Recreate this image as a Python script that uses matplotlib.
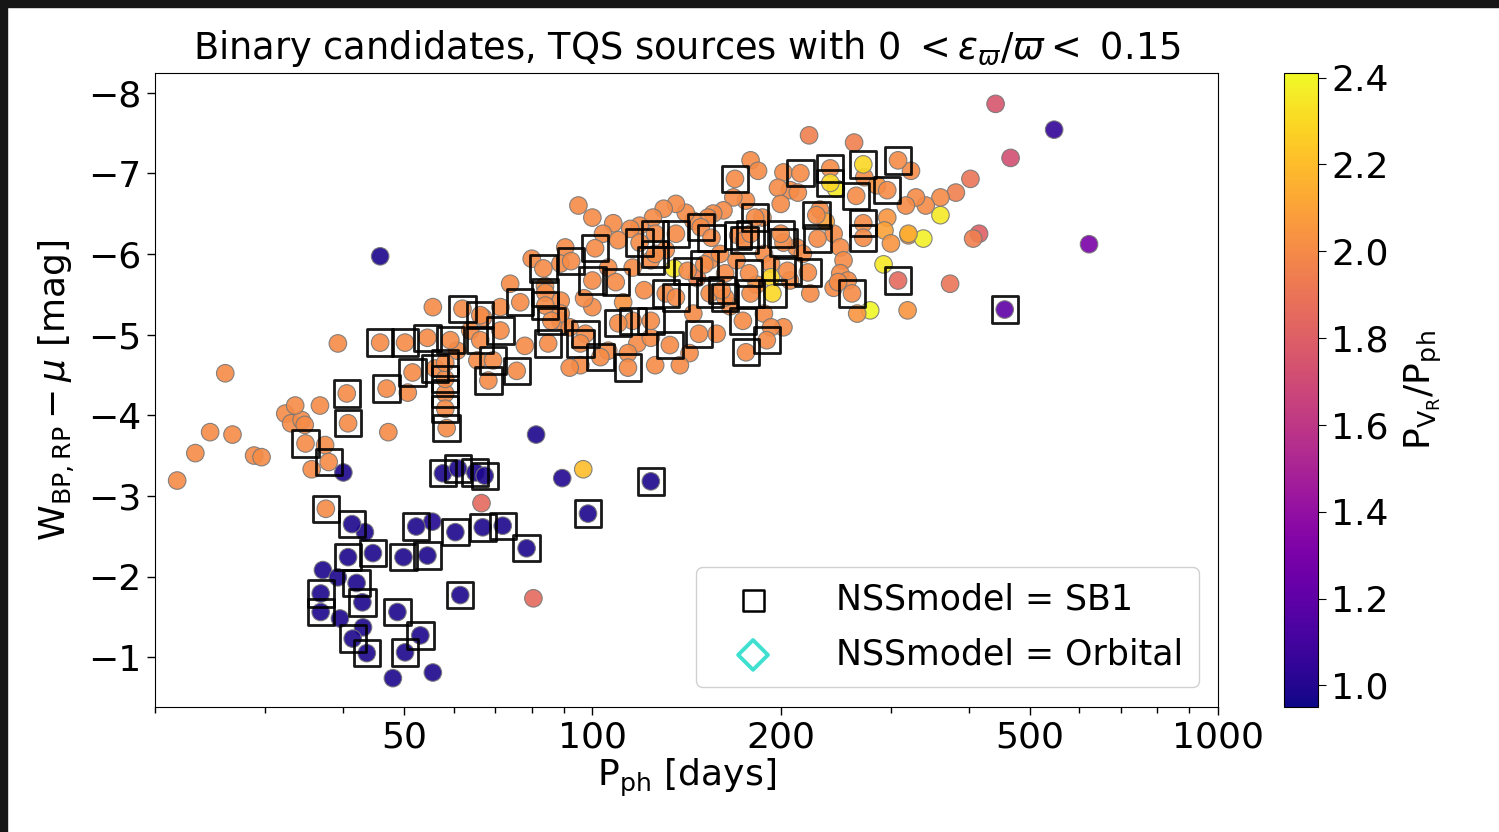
import numpy as np
import matplotlib
matplotlib.use("Agg")
import matplotlib.pyplot as plt
from matplotlib.ticker import FixedLocator, NullFormatter, FuncFormatter
from matplotlib.patches import Rectangle

# ---- data ----
# sources without NSS model: period [days], W-mu [mag], P_VR/P_ph
plainP = [21.7, 23.2, 24.5, 25.9, 26.6, 28.8, 29.6, 32.3, 33.0, 34.3, 34.7, 33.5,
          36.7, 37.4, 35.6, 39.2, 50.7, 47.2, 55.6, 71.3, 73.9, 95.0, 100, 95.7,
          89.0, 89.0, 80.0, 78.0, 60.8, 65.5, 66.9, 63.8, 92.0, 126,
          179, 184, 202, 207, 213, 198, 200, 187, 176, 168, 162, 156, 153, 145, 141,
          136, 130, 125, 119, 115, 108, 104, 110, 90.5, 88.9, 106, 116, 154, 160,
          163, 170, 188, 193, 212, 217, 243, 249, 252, 243, 249, 256, 207, 188,
          202, 193, 145, 158, 143, 138, 118, 124, 100, 92, 89, 106, 114, 223,
          135, 193, 222, 262,
          323, 381, 402, 360, 341, 329, 317, 360, 320, 338, 415, 406, 373, 319,
          441, 547, 466, 622, 292, 278, 265, 247, 296, 293, 320, 300, 245,
          45.8, 81.3, 89.5, 96.7, 66.5, 80.5, 40.0, 43.3, 55.5, 37.1, 39.2, 39.5,
          43.0, 48.0, 55.6,
          84.0, 97.0, 112, 121, 131, 147, 166, 183, 231, 236, 272, 285]
plainW = [-3.19, -3.53, -3.79, -4.52, -3.76, -3.50, -3.48, -4.02, -3.90, -3.94, -3.88, -4.12,
          -4.12, -3.63, -3.33, -4.89, -4.28, -3.79, -5.34, -5.34, -5.63, -6.60, -6.45, -4.62,
          -5.42, -5.17, -5.94, -4.86, -4.80, -4.68, -5.21, -5.05, -4.59, -4.62,
          -7.16, -7.03, -7.01, -6.79, -6.76, -6.82, -6.62, -6.45, -6.66, -6.70, -6.54, -6.50, -6.45, -6.41, -6.51,
          -6.62, -6.56, -6.45, -6.35, -6.31, -6.38, -6.25, -6.17, -6.08, -5.88, -5.83, -5.83, -5.92, -6.00,
          -5.76, -5.92, -6.00, -5.88, -6.08, -6.00, -6.25, -6.08, -5.92, -5.58, -5.76, -5.67, -5.67, -5.26,
          -5.09, -5.09, -5.26, -5.01, -4.77, -4.62, -4.89, -4.96, -5.34, -5.09, -5.26, -4.80, -4.77, -5.51,
          -5.82, -5.71, -7.47, -7.38,
          -7.03, -6.76, -6.93, -6.70, -6.60, -6.70, -6.60, -6.48, -6.23, -6.19, -6.25, -6.19, -5.63, -5.30,
          -7.86, -7.54, -7.19, -6.12, -5.87, -5.30, -5.26, -5.65, -6.45, -6.29, -6.25, -6.13, -6.81,
          -5.97, -3.76, -3.22, -3.33, -2.91, -1.73, -3.29, -2.55, -2.68, -2.08, -1.99, -1.48,
          -1.37, -0.74, -0.81,
          -5.60, -5.45, -5.40, -5.55, -6.05, -5.70, -5.35, -5.62, -6.55, -6.40, -6.95, -6.85]
plainR = [2.0] * 34 + [2.0] * 57 + [2.35, 2.3, 1.95, 1.95] + \
         [2.0, 1.95, 1.9, 2.0, 2.0, 2.0, 2.0, 2.35, 2.05, 2.38, 1.8, 1.95, 1.9, 2.05,
          1.75, 1.05, 1.72, 1.3, 2.35, 2.4, 2.05, 2.0, 2.05, 2.1, 2.15, 2.05, 2.35,
          0.98, 0.98, 1.0, 2.2, 1.85, 1.85, 0.98, 0.98, 1.0, 0.98, 0.98, 0.98,
          0.98, 0.98, 0.98] + \
         [2.0, 2.0, 2.05, 2.0, 2.0, 1.95, 2.0, 2.05, 2.0, 2.1, 2.0, 2.05]

# sources with NSSmodel = SB1
sb1P = [41.3, 52.3, 60.4, 66.8, 71.9, 78.5, 40.7, 44.6, 49.9, 54.5, 42.0, 61.5,
        36.8, 36.8, 42.9, 48.8, 41.4, 43.6, 53.1, 50.2, 57.7, 61.0, 65.0, 67.3,
        98.4, 124, 456,
        34.8, 37.9, 37.5, 40.5, 40.7, 46.9, 58.5, 45.8, 50.2, 54.5, 59.3, 62.0,
        66.2, 76.7, 84.1, 84.1, 83.5, 92.5, 51.6, 56.1, 58.2, 58.2, 58.2, 58.2,
        69.4, 75.7, 68.2, 71.3, 66.2, 85.0, 97.5, 86.0, 95.7, 103, 114, 133, 148,
        174, 176, 190, 101, 100, 109, 119, 126, 124, 126, 136, 149, 155, 142, 151,
        131, 136, 154, 163, 124, 116, 110, 169, 215, 240, 240, 271, 308, 264, 296,
        182, 228, 271, 271, 229, 202, 200, 171, 175, 179, 205, 221, 194, 178, 179,
        308, 260, 161]
sb1W = [-2.65, -2.62, -2.55, -2.61, -2.63, -2.35, -2.24, -2.29, -2.24, -2.26, -1.92, -1.77,
        -1.79, -1.56, -1.68, -1.56, -1.23, -1.05, -1.27, -1.06, -3.28, -3.34, -3.29, -3.25,
        -2.78, -3.18, -5.31,
        -3.65, -3.42, -2.84, -4.27, -3.90, -4.33, -3.84, -4.90, -4.90, -4.96, -4.93, -5.32,
        -5.24, -5.40, -5.52, -5.36, -5.82, -5.91, -4.53, -4.58, -4.27, -4.45, -4.65, -4.08,
        -4.68, -4.55, -4.43, -5.05, -4.93, -4.89, -5.01, -5.17, -4.89, -4.72, -4.59, -4.87, -5.01,
        -5.17, -4.78, -4.93, -6.07, -5.67, -5.65, -6.14, -6.25, -5.92, -6.00, -6.25, -6.33, -6.20, -5.79, -5.87,
        -5.51, -5.46, -5.51, -5.46, -5.17, -5.17, -5.14, -6.93, -7.00, -7.06, -6.88, -7.11, -7.16, -6.72, -6.79,
        -6.45, -6.48, -6.38, -6.20, -6.19, -6.14, -6.25, -6.23, -6.17, -6.25, -5.79, -5.77, -5.51, -5.76, -5.51,
        -5.67, -5.51, -5.55]
sb1R = [0.98] * 26 + [1.2] + [2.0] * 62 + [2.3, 2.3] + [2.0] * 15 + [2.3, 2.0, 2.0, 1.85, 2.0, 2.0]

# NSSmodel = Orbital: none in this range
orbP = []
orbW = []

xTicks = [50, 100, 200, 500, 1000]
xMinor = [20, 30, 40, 60, 70, 80, 90, 300, 400, 600, 700, 800, 900]
cTicks = [1.0, 1.2, 1.4, 1.6, 1.8, 2.0, 2.2, 2.4]

plt.rcParams['font.family'] = ['DejaVu Sans']

fig = plt.figure(figsize=(14.99, 8.32), dpi=100)
ax = fig.add_axes([0.1034, 0.150, 0.7092, 0.762])
cax = fig.add_axes([0.8566, 0.150, 0.0227, 0.762])

# all sources as circles coloured by period ratio
allP = plainP + sb1P
allW = plainW + sb1W
allR = plainR + sb1R
sc = ax.scatter(allP, allW, c=allR, cmap='plasma', vmin=0.95, vmax=2.41,
                s=160, alpha=0.9, edgecolors='#777777', linewidths=0.8, zorder=2)

# SB1 sources get an open square on top
ax.scatter(sb1P, sb1W, marker='s', s=360, facecolors='none', edgecolors='black',
           linewidths=2.0, alpha=0.9, zorder=3)
ax.scatter(orbP, orbW, marker='D', s=200, facecolors='none', edgecolors='turquoise',
           linewidths=2, zorder=4)

# legend handles
h1 = ax.scatter([], [], marker='s', s=230, facecolors='none', edgecolors='black',
                linewidths=1.8, label='NSSmodel = SB1')
h2 = ax.scatter([], [], marker='D', s=230, facecolors='none', edgecolors='turquoise',
                linewidths=2.8, label='NSSmodel = Orbital')
ax.legend(handles=[h1, h2], loc='lower right', fontsize=25, framealpha=0.9,
          borderpad=0.45, handletextpad=1.2, labelspacing=0.6, handlelength=2.4,
          bbox_to_anchor=(0.9985, 0.005))

ax.set_xscale('log')
ax.set_xlim(20, 1000)
ax.set_ylim(-0.38, -8.24)
ax.xaxis.set_major_locator(FixedLocator(xTicks))
ax.xaxis.set_major_formatter(FuncFormatter(lambda v, p: '%d' % v))
ax.xaxis.set_minor_locator(FixedLocator(xMinor))
ax.xaxis.set_minor_formatter(NullFormatter())
ax.set_yticks([-8, -7, -6, -5, -4, -3, -2, -1])
ax.tick_params(labelsize=26, length=6, width=1)
ax.tick_params(which='minor', length=4, width=1)

ax.set_xlabel(r'P$_{\rm ph}$ [days]', fontsize=26, labelpad=2)
ax.set_ylabel(r'W$_{\rm BP,RP} - \mu$ [mag]', fontsize=26, labelpad=8)
ax.set_title(r'Binary candidates, TQS sources with 0 $<\varepsilon_{\varpi}/\varpi<$ 0.15',
             fontsize=26.5, pad=10)

cb = fig.colorbar(sc, cax=cax)
cb.solids.set_alpha(1)
cb.set_ticks(cTicks)
cb.ax.tick_params(labelsize=26, length=6)
cb.set_label(r'P$_{\rm V_R}$/P$_{\rm ph}$', fontsize=26, labelpad=10)

# dark screenshot border on top and left
fig.patches.append(Rectangle((0, 0.992), 1, 0.008, transform=fig.transFigure,
                             color='#161616', zorder=10))
fig.patches.append(Rectangle((0, 0), 0.005, 1, transform=fig.transFigure,
                             color='#161616', zorder=10))

fig.savefig('out.png', dpi=100)
